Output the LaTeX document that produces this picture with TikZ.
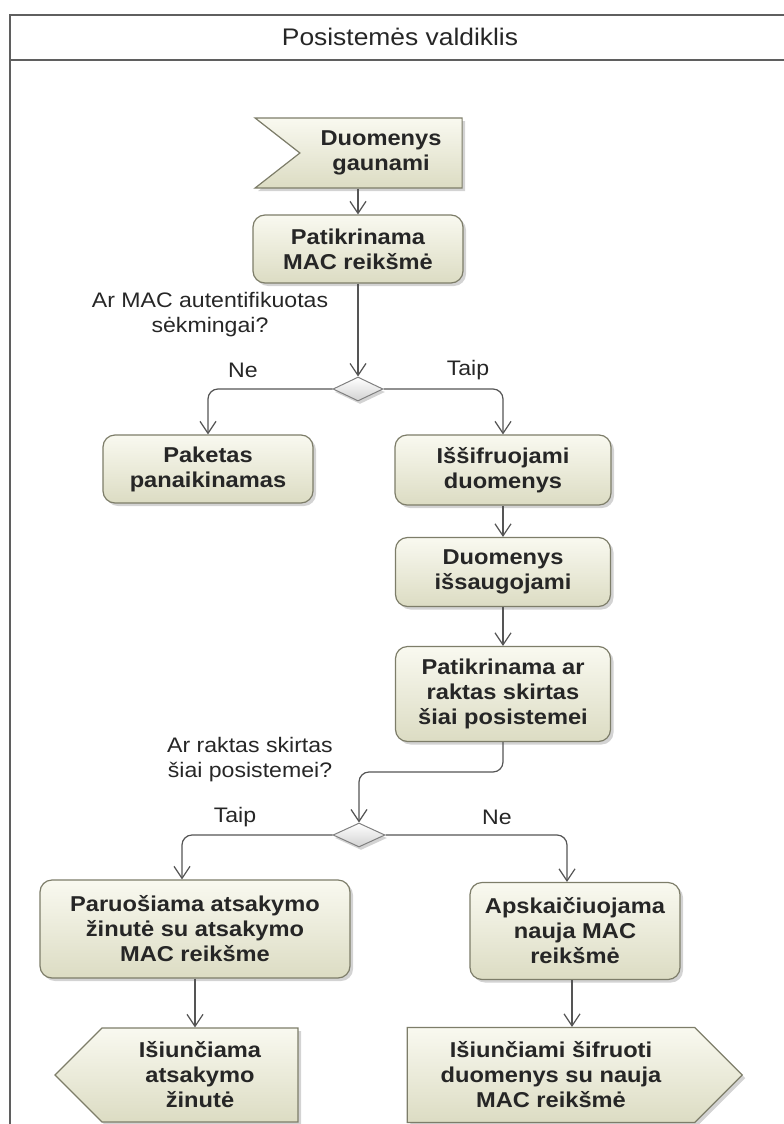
\documentclass[tikz,border=0pt]{standalone}
\usepackage{fontspec}
\setmainfont{Liberation Sans}[FakeStretch=1.1]
\usepackage{xcolor}
\usepackage{tikz}
\usetikzlibrary{positioning,shapes.geometric,shapes.symbols,shadows,arrows.meta}

\definecolor{actlight}{RGB}{249,249,240}
\definecolor{actdark}{RGB}{220,220,195}
\definecolor{actline}{RGB}{125,125,105}
\definecolor{flowline}{RGB}{85,85,85}
\definecolor{framegray}{RGB}{95,95,95}

\begin{document}
\begin{tikzpicture}[x=1pt,y=-1pt,
  action/.style={rectangle,rounded corners=12pt,draw=actline,line width=1.2pt,
    top color=actlight,bottom color=actdark,align=center,text=black!85,
    font=\fontsize{21.5}{25}\selectfont\bfseries,
    drop shadow={shadow xshift=3pt,shadow yshift=-3pt,opacity=0.35}},
  sig/.style={action,rounded corners=0pt,signal,signal pointer angle=90},
  decision/.style={diamond,draw=gray,line width=1pt,top color=white,bottom color=gray!35,
    minimum width=50pt,minimum height=24pt,inner sep=0pt,
    drop shadow={shadow xshift=2pt,shadow yshift=-3pt,opacity=0.35}},
  flow/.style={draw=flowline,line width=1.2pt,rounded corners=10pt,
    -{Straight Barb[length=12pt,width=16pt]}},
  guard/.style={font=\fontsize{21}{25}\selectfont,align=center,text=black!85}]
  \useasboundingbox (0,0) rectangle (784,1124);
  \clip (0,0) rectangle (784,1124);
  % Frame with header
  \draw[framegray,line width=2.5pt] (10,1140) -- (10,15) -- (795,15);
  \draw[framegray,line width=2.5pt] (10,60) -- (795,60);
  \node[font=\fontsize{24}{28}\selectfont,text=black!85] (title) at (400,37) {Posistemės valdiklis};
  % Receiving and MAC check
  \node[sig,signal from=west,signal to=nowhere,signal pointer angle=76,
    minimum width=207pt,minimum height=70pt] (recv) at (381,153) {Duomenys\\gaunami};
  \node[action,minimum width=210pt,minimum height=68pt] (chkmac) at (358,249) {Patikrinama\\MAC reikšmė};
  \node[decision] (dmac) at (358,389) {};
  \node[guard] (qmac) at (210,315) {Ar MAC autentifikuotas\\sėkmingai?};
  \node[guard] (ne1) at (243,370) {Ne};
  \node[guard] (taip1) at (468,370) {Taip};
  % Branches after the MAC check
  \node[action,minimum width=210pt,minimum height=68pt] (drop) at (208,469) {Paketas\\panaikinamas};
  \node[action,minimum width=216pt,minimum height=70pt] (decrypt) at (503,470) {Iššifruojami\\duomenys};
  \node[action,minimum width=215pt,minimum height=69pt] (store) at (503,572) {Duomenys\\išsaugojami};
  \node[action,minimum width=215pt,minimum height=95pt] (chkkey) at (503,694) {Patikrinama ar\\raktas skirtas\\šiai posistemei};
  % Key decision
  \node[guard] (qkey) at (250,760) {Ar raktas skirtas\\šiai posistemei?};
  \coordinate (kbend) at (359,772);
  \node[decision,minimum width=52pt] (dkey) at (359,835) {};
  \node[guard] (taip2) at (235,817) {Taip};
  \node[guard] (ne2) at (497,817) {Ne};
  % Replies
  \node[action,minimum width=310pt,minimum height=98pt] (reply) at (195,929) {Paruošiama atsakymo\\žinutė su atsakymo\\MAC reikšme};
  \node[action,minimum width=210pt,minimum height=97pt] (newmac) at (575,931) {Apskaičiuojama\\nauja MAC\\reikšmė};
  \node[sig,signal to=west,minimum width=243pt,minimum height=94pt] (sendrep) at (200,1075) {Išiunčiama\\atsakymo\\žinutė};
  \node[sig,signal to=east,minimum width=335pt,minimum height=95pt] (sendnew) at (551,1075) {Išiunčiami šifruoti\\duomenys su nauja\\MAC reikšmė};
  % Arrows
  \draw[flow] (recv.south -| chkmac.north) -- (chkmac.north);
  \draw[flow] (chkmac.south) -- (dmac.north);
  \draw[flow] (dmac.west) -| (drop.north);
  \draw[flow] (dmac.east) -| (decrypt.north);
  \draw[flow] (decrypt.south) -- (store.north);
  \draw[flow] (store.south) -- (chkkey.north);
  \draw[flow] (chkkey.south) |- (kbend) -- (dkey.north);
  \draw[flow] (dkey.west) -| ([xshift=-13pt]reply.north);
  \draw[flow] (dkey.east) -| ([xshift=-8pt]newmac.north);
  \draw[flow] (reply.south) -- (reply.south |- sendrep.north);
  \draw[flow] ([xshift=-3pt]newmac.south) -- ([xshift=-3pt]newmac.south |- sendnew.north);
\end{tikzpicture}
\end{document}
